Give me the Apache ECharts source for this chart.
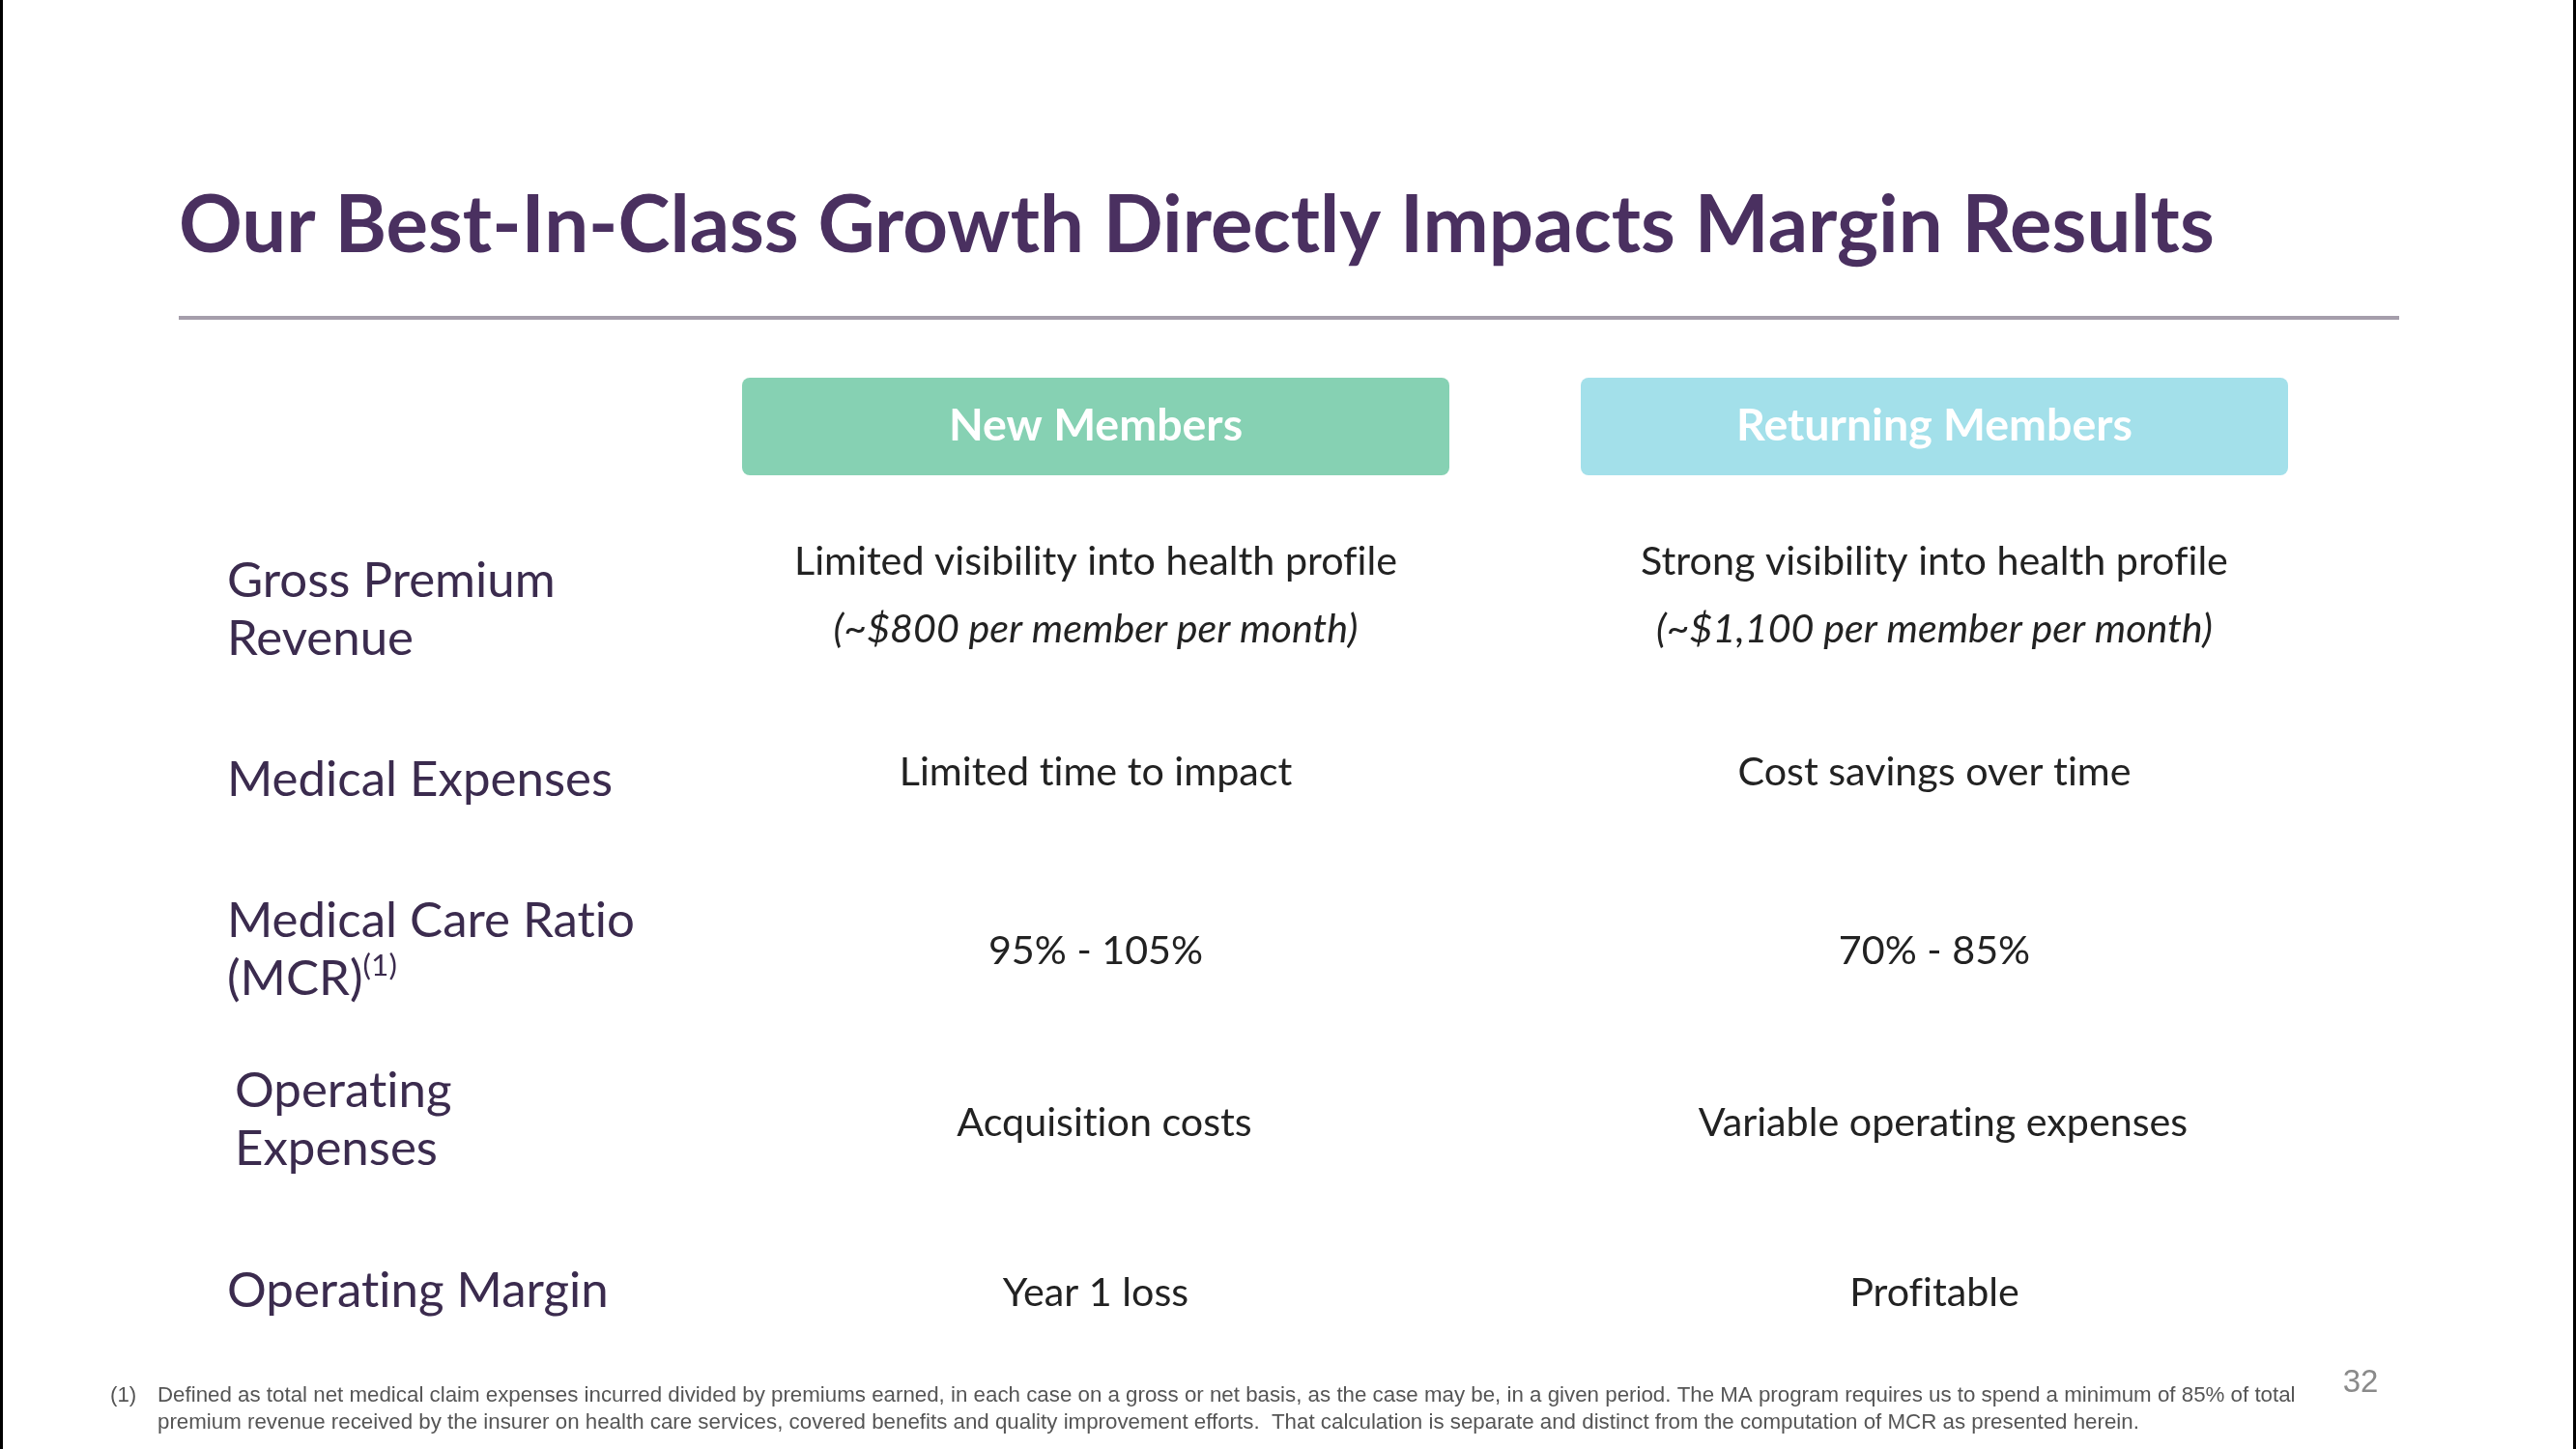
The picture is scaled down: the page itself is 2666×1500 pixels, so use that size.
<!DOCTYPE html>
<html>
<head>
<meta charset="utf-8">
<script src="https://cdn.jsdelivr.net/npm/echarts@6/dist/echarts.min.js"></script>
<style>
html,body{margin:0;padding:0;background:#ffffff;}
#chart{width:2666px;height:1500px;}
</style>
</head>
<body>
<div id="chart"></div>
<script>
// ---------------- data ----------------
const titleText = 'Our Best-In-Class Growth Directly Impacts Margin Results';
const columns = ['New Members', 'Returning Members'];
const rowLabels = ['Gross Premium\nRevenue', 'Medical Expenses', 'Medical Care Ratio\n(MCR)', 'Operating\nExpenses', 'Operating Margin'];
const rowLabelNotes = ['', '', '(1)', '', ''];
const newMembers = [
  ['Limited visibility into health profile', '(~$800 per member per month)'],
  ['Limited time to impact'],
  ['95% - 105%'],
  ['Acquisition costs'],
  ['Year 1 loss']
];
const returningMembers = [
  ['Strong visibility into health profile', '(~$1,100 per member per month)'],
  ['Cost savings over time'],
  ['70% - 85%'],
  ['Variable operating expenses'],
  ['Profitable']
];
const footnoteMark = '(1)';
const footnoteLines = [
  'Defined as total net medical claim expenses incurred divided by premiums earned, in each case on a gross or net basis, as the case may be, in a given period. The MA program requires us to spend a minimum of 85% of total',
  'premium revenue received by the insurer on health care services, covered benefits and quality improvement efforts.  That calculation is separate and distinct from the computation of MCR as presented herein.'
];
const pageNumber = '32';

// ---------------- layout / style ----------------
const FONT = 'Lato';
const SMALL_FONT = 'Liberation Sans';
const TITLE_COLOR = '#4a3060';
const LABEL_COLOR = '#3b2b4e';
const BODY_COLOR = '#222222';
const HEADER_COLORS = ['#86d1b3', '#a3e0ea'];
const LABEL_X = 235;
const rowLabelIndent = [0, 0, 0, 8, 0];
const rowLabelShiftY = [15, 11, 7, 3, 0];
const cellShiftX = [0, 0, 0, 9, 0];
const cellShiftY = [0, 3, 8, 6, 2];

// plain glyphs (no ligatures), like the original slide font
const origGetContext = HTMLCanvasElement.prototype.getContext;
HTMLCanvasElement.prototype.getContext = function () {
  const ctx = origGetContext.apply(this, arguments);
  if (ctx && 'textRendering' in ctx) { try { ctx.textRendering = 'optimizeSpeed'; } catch (e) {} }
  return ctx;
};

const measureCtx = document.createElement('canvas').getContext('2d');
function fitSize(text, weight, family, target, style) {
  measureCtx.font = (style || 'normal') + ' ' + weight + ' 100px "' + family + '"';
  const w = measureCtx.measureText(text).width;
  return 100 * target / w;
}
const titleSize = fitSize(titleText, 'bold', FONT, 2107);
const headerSize = fitSize(columns[1], 'bold', FONT, 410);
const labelSize = fitSize('Medical Expenses', 'normal', FONT, 399);
const bodySize = fitSize(newMembers[0][0], 'normal', FONT, 624);
const footSize = fitSize(footnoteLines[0], 'normal', SMALL_FONT, 2214);

const cellData = [];
for (let i = 0; i < rowLabels.length; i++) {
  for (let j = 0; j < columns.length; j++) cellData.push([j, i]);
}
const labelData = rowLabels.map(function (l, i) { return [0, i]; });

const chart = echarts.init(document.getElementById('chart'), null, {renderer: 'canvas'});

const option = {
  backgroundColor: '#ffffff',
  animation: false,
  grid: {left: 700, right: 230, top: 527, bottom: 73, containLabel: false, outerBoundsMode: 'none'},
  xAxis: {
    type: 'category',
    position: 'top',
    data: columns,
    axisLine: {show: false},
    axisTick: {show: false},
    splitLine: {show: false},
    axisLabel: {
      interval: 0,
      margin: 35,
      formatter: function (v, idx) { return '{h' + idx + '|' + v + '}'; },
      rich: {
        h0: {backgroundColor: HEADER_COLORS[0], width: 732, height: 101, lineHeight: 101, align: 'center', borderRadius: 8,
             color: '#ffffff', fontFamily: FONT, fontWeight: 'bold', fontSize: headerSize},
        h1: {backgroundColor: HEADER_COLORS[1], width: 732, height: 101, lineHeight: 101, align: 'center', borderRadius: 8,
             color: '#ffffff', fontFamily: FONT, fontWeight: 'bold', fontSize: headerSize}
      }
    }
  },
  yAxis: {
    type: 'category',
    inverse: true,
    data: rowLabels,
    axisLine: {show: false},
    axisTick: {show: false},
    splitLine: {show: false},
    axisLabel: {show: false}
  },
  series: [{
    type: 'custom',
    name: 'rows',
    clip: false,
    data: labelData,
    renderItem: function (params, api) {
      const i = api.value(1);
      const p = api.coord([0, i]);
      const note = rowLabelNotes[i];
      return {
        type: 'text',
        style: {
          text: note ? rowLabels[i] + '{sup|' + note + '}' : rowLabels[i],
          x: LABEL_X + rowLabelIndent[i],
          y: p[1] + rowLabelShiftY[i],
          align: 'left',
          verticalAlign: 'middle',
          fill: LABEL_COLOR,
          fontFamily: FONT,
          fontSize: labelSize,
          lineHeight: 60,
          rich: {
            sup: {fontFamily: FONT, fontSize: labelSize * 0.62, lineHeight: 34, verticalAlign: 'top', fill: LABEL_COLOR}
          }
        }
      };
    }
  }, {
    type: 'custom',
    name: 'cells',
    clip: false,
    data: cellData,
    renderItem: function (params, api) {
      const j = api.value(0), i = api.value(1);
      const p = api.coord([j, i]);
      const lines = (j === 0 ? newMembers : returningMembers)[i];
      const lh = 70;
      return {
        type: 'group',
        children: lines.map(function (t, k) {
          return {
            type: 'text',
            style: {
              text: t,
              x: p[0] + cellShiftX[i],
              y: p[1] + cellShiftY[i] + (k - (lines.length - 1) / 2) * lh,
              align: 'center',
              verticalAlign: 'middle',
              fill: BODY_COLOR,
              fontFamily: FONT,
              fontSize: bodySize,
              fontStyle: k > 0 ? 'italic' : 'normal'
            }
          };
        })
      };
    }
  }],
  graphic: [
    {type: 'rect', shape: {x: 0, y: 0, width: 3, height: 1500}, style: {fill: '#000000'}, silent: true},
    {type: 'rect', shape: {x: 2663, y: 0, width: 3, height: 1500}, style: {fill: '#000000'}, silent: true},
    {type: 'text', style: {text: titleText, x: 185, y: 235, align: 'left', verticalAlign: 'middle',
      fill: TITLE_COLOR, fontFamily: FONT, fontWeight: 'bold', fontSize: titleSize}},
    {type: 'line', shape: {x1: 185, y1: 329, x2: 2483, y2: 329}, style: {stroke: '#a59eab', lineWidth: 4}},
    {type: 'text', style: {text: footnoteMark, x: 114, y: 1445, align: 'left', verticalAlign: 'middle',
      fill: '#555555', fontFamily: SMALL_FONT, fontSize: footSize}},
    {type: 'text', style: {text: footnoteLines[0], x: 163, y: 1445, align: 'left', verticalAlign: 'middle',
      fill: '#555555', fontFamily: SMALL_FONT, fontSize: footSize}},
    {type: 'text', style: {text: footnoteLines[1], x: 163, y: 1473, align: 'left', verticalAlign: 'middle',
      fill: '#555555', fontFamily: SMALL_FONT, fontSize: footSize}},
    {type: 'text', style: {text: pageNumber, x: 2443, y: 1432, align: 'center', verticalAlign: 'middle',
      fill: '#8a8a8a', fontFamily: SMALL_FONT, fontSize: 33}}
  ]
};
chart.setOption(option);
</script>
</body>
</html>
